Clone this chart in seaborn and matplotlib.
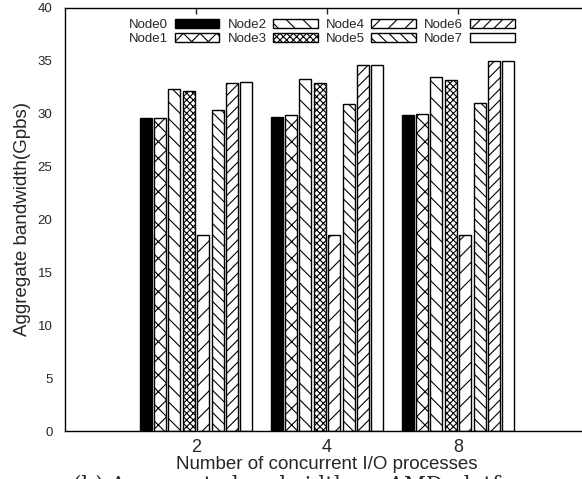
import matplotlib
matplotlib.use("Agg")
import matplotlib.pyplot as plt
import matplotlib.patches as mpatches
import seaborn as sns
import pandas as pd

# ---- data ----
categories = ["2", "4", "8"]
nodes = ["Node0", "Node1", "Node2", "Node3", "Node4", "Node5", "Node6", "Node7"]
node0 = [29.6, 29.7, 29.9]
node1 = [29.6, 29.85, 29.95]
node2 = [32.35, 33.25, 33.45]
node3 = [32.15, 32.9, 33.15]
node4 = [18.5, 18.5, 18.55]
node5 = [30.35, 30.9, 31.0]
node6 = [32.95, 34.65, 35.0]
node7 = [33.0, 34.65, 35.0]
series = [node0, node1, node2, node3, node4, node5, node6, node7]
yticks = [0, 5, 10, 15, 20, 25, 30, 35, 40]

rows = []
for n, vals in zip(nodes, series):
    for c, v in zip(categories, vals):
        rows.append({"proc": c, "node": n, "bw": v})
df = pd.DataFrame(rows)

hatches = ["", "xx", "\\\\", "xxxxx", "//", "\\\\\\", "///", ""]
faces = ["black"] + ["white"] * 7

sns.set_style("white")
plt.rcParams["font.family"] = ["Liberation Sans", "DejaVu Sans"]
plt.rcParams["hatch.linewidth"] = 0.8
plt.rcParams["hatch.color"] = "black"

fig = plt.figure(figsize=(5.82, 4.79), dpi=100)
ax = fig.add_axes([65 / 582, 48 / 479, 524 / 582, 423 / 479])

sns.barplot(data=df, x="proc", y="bw", hue="node", hue_order=nodes,
            order=categories, palette=faces, width=0.88, gap=0.16,
            edgecolor="black", linewidth=1.0, saturation=1, ax=ax,
            legend=False, errorbar=None)

for cont, h, fc in zip(ax.containers, hatches, faces):
    for p in cont.patches:
        p.set_hatch(h)
        p.set_facecolor(fc)
        p.set_edgecolor("black")

ax.set_xlim(-1, 3)
ax.set_ylim(0, 40)
ax.set_yticks(yticks)
ax.set_yticklabels([str(t) for t in yticks], fontsize=9.5)
ax.tick_params(axis="x", labelsize=13, direction="in", top=True, length=4, width=1, pad=6)
ax.tick_params(axis="y", direction="in", right=True, length=4, width=1, pad=9)
for s in ax.spines.values():
    s.set_color("black")
    s.set_linewidth(1.0)

ax.set_xlabel("Number of concurrent I/O processes", fontsize=13.5, labelpad=0)
ax.set_ylabel("Aggregate bandwidth(Gpbs)", fontsize=13.5, labelpad=5)

leg_handles = [mpatches.Patch(facecolor=fc, edgecolor="black", hatch=h, linewidth=1.0)
               for fc, h in zip(faces, hatches)]
ax.legend(leg_handles, nodes, ncol=4, loc="upper center",
          bbox_to_anchor=(0.49, 0.99), frameon=False, fontsize=9.5,
          markerfirst=False, handlelength=3.4, handleheight=0.7,
          handletextpad=0.5, columnspacing=0.6, labelspacing=0.15,
          borderpad=0)

fig.text(73 / 582, -13 / 479, "(b) Aggregate bandwidth on AMD platform",
         family="DejaVu Serif", fontsize=15.5, va="baseline", ha="left")

fig.savefig("out.png", dpi=100)
